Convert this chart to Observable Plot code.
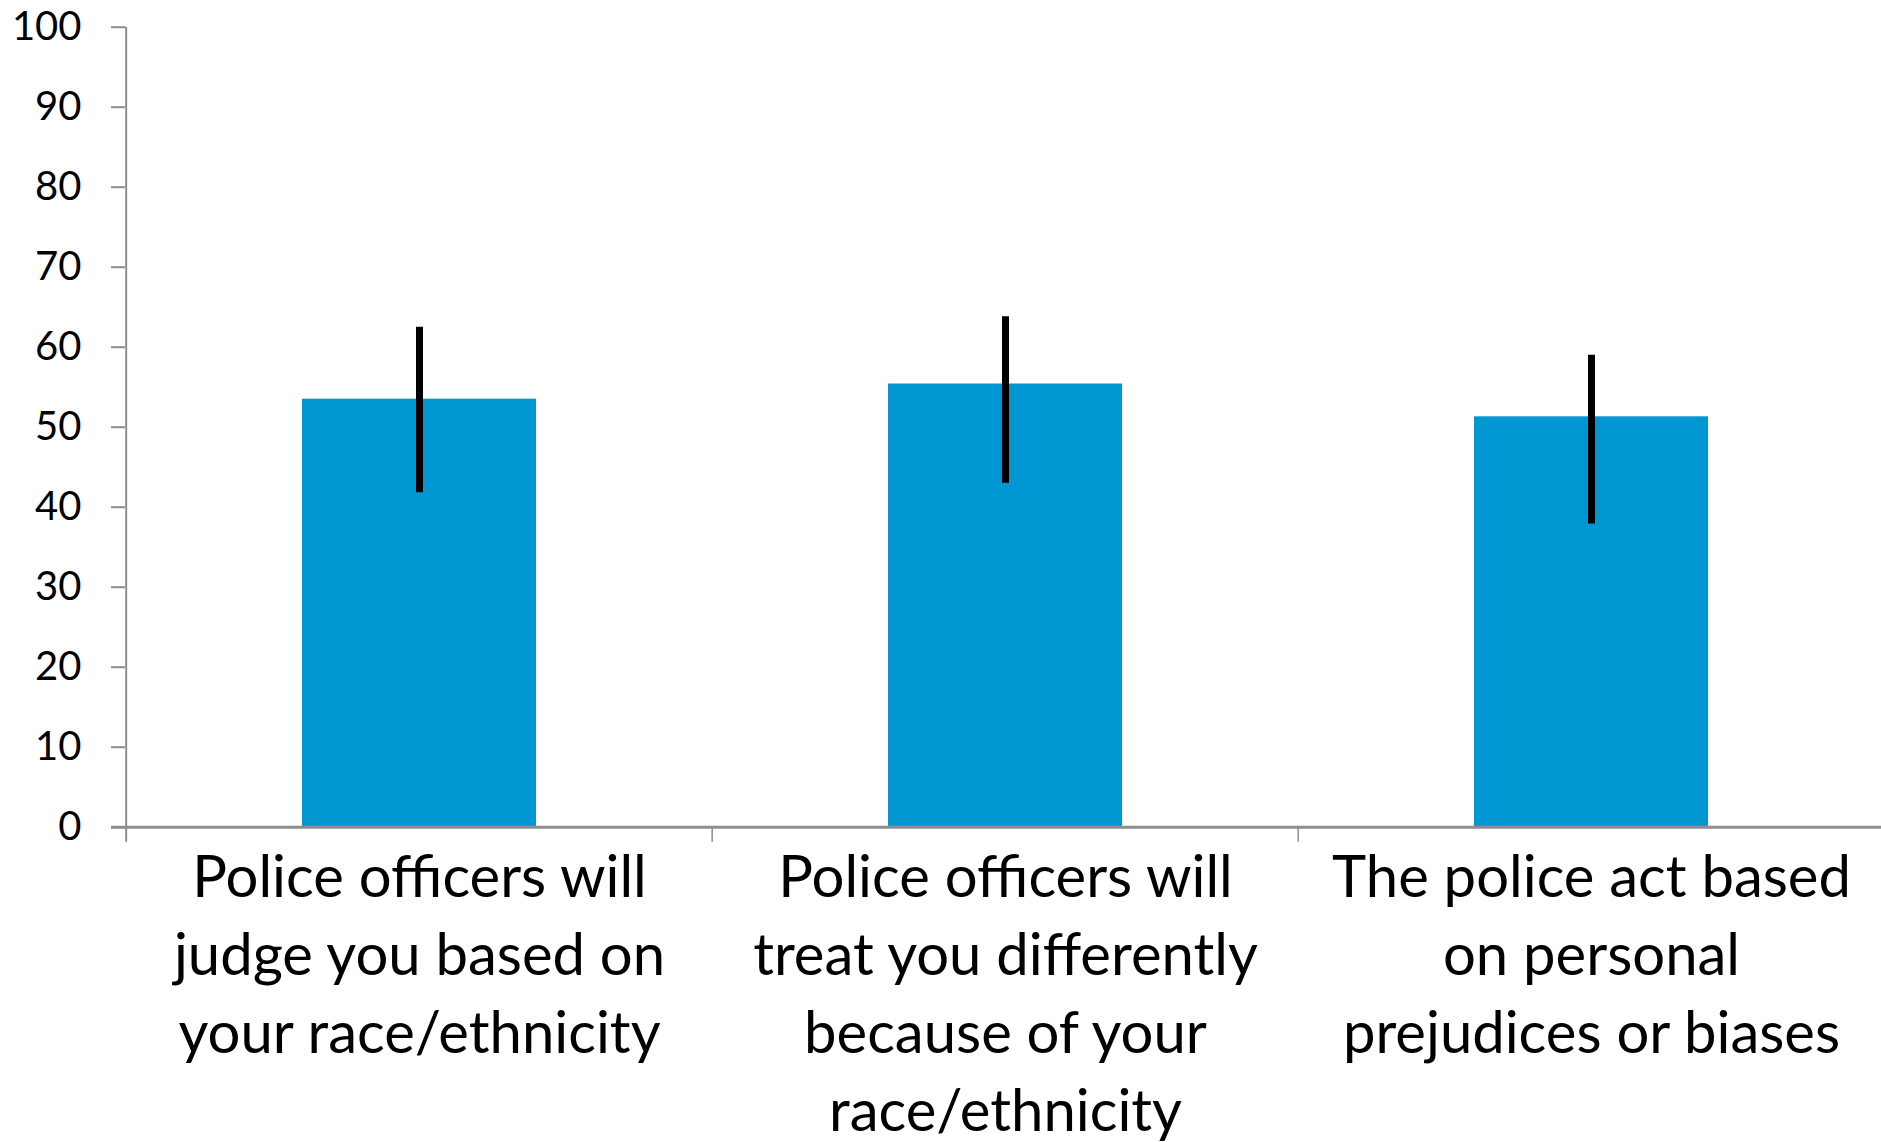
<!DOCTYPE html>
<html>
<head>
<meta charset="utf-8">
<script src="https://cdn.jsdelivr.net/npm/d3@7"></script>
<script src="https://cdn.jsdelivr.net/npm/@observablehq/plot@0.6"></script>
<style>
  html, body { margin: 0; padding: 0; background: #fff; overflow: hidden; }
  #chart svg { overflow: visible; }
</style>
</head>
<body>
<div id="chart"></div>
<script>
// ---- data ----
const categories = [
  "Police officers will\njudge you based on\nyour race/ethnicity",
  "Police officers will\ntreat you differently\nbecause of your\nrace/ethnicity",
  "The police act based\non personal\nprejudices or biases"
];
const values = [53.5, 55.4, 51.3];
const lower = [41.8, 43.0, 37.9];
const upper = [62.5, 63.8, 59.0];
const yTicks = [0, 10, 20, 30, 40, 50, 60, 70, 80, 90, 100];

const data = categories.map((c, i) => ({cat: c, value: values[i], lo: lower[i], hi: upper[i]}));

// ---- layout ----
const W = 1881, H = 1142;
const mL = 125, mR = -4, mT = 26.7, mB = H - 826.7;
const step = (W - mL - mR) / categories.length;
const gray = "#8e8e8e";
const blue = "#0097d2";

const chart = Plot.plot({
  width: W,
  height: H,
  marginLeft: mL,
  marginRight: mR,
  marginTop: mT,
  marginBottom: mB,
  style: {fontFamily: "Lato, 'Open Sans', sans-serif", background: "#fff", color: "black"},
  x: {domain: categories, paddingInner: 0.6, paddingOuter: 0.3, label: null},
  y: {domain: [0, 100], label: null},
  marks: [
    Plot.barY(data, {x: "cat", y: "value", fill: blue}),
    // baseline
    Plot.ruleY([0], {stroke: gray, strokeWidth: 3, insetLeft: -14}),
    // y axis line (left boundary of first band), extended below baseline
    Plot.ruleX([categories[0]], {x: d => d, dx: -step / 2, y1: -15 / 8, y2: 100, stroke: gray, strokeWidth: 2}),
    // category boundary ticks
    Plot.ruleX(categories.slice(1), {x: d => d, dx: -step / 2, y1: -15 / 8, y2: 0, stroke: gray, strokeWidth: 1.5}),
    // error bars
    Plot.ruleX(data, {x: "cat", y1: "lo", y2: "hi", stroke: "black", strokeWidth: 7}),
    Plot.axisY({ticks: yTicks, tickSize: 14, tickPadding: 30, stroke: gray, strokeWidth: 2, fill: "black", fontSize: 40, tickFormat: d => String(d), label: null}),
    Plot.axisX({tickSize: 0, tickPadding: 15, fontSize: 58, lineHeight: 1.34, fill: "black", label: null})
  ]
});
document.getElementById("chart").appendChild(chart);
</script>
</body>
</html>
